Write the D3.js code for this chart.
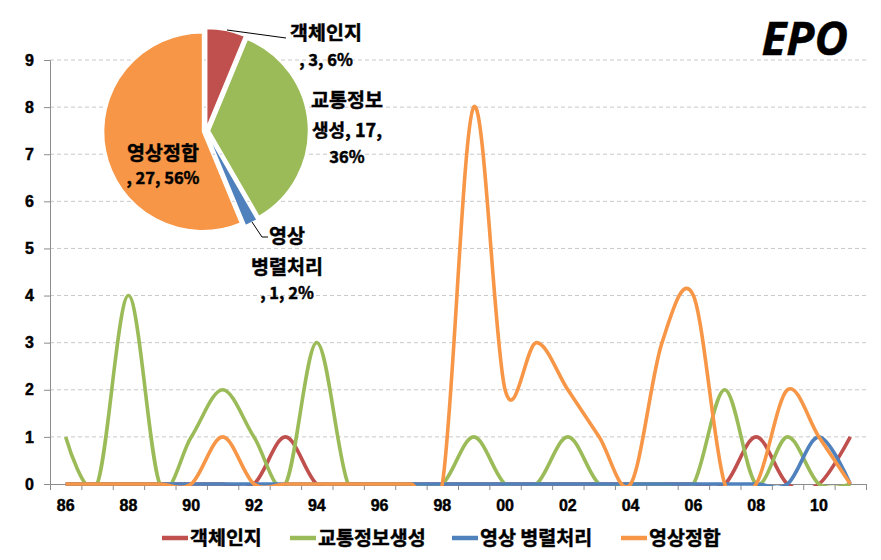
<!DOCTYPE html>
<html><head><meta charset="utf-8">
<script src="https://cdn.jsdelivr.net/npm/d3@7"></script>
<style>
html,body{margin:0;padding:0;background:#fff;}
text{font-family:"Noto Sans CJK KR","Noto Sans",sans-serif;font-weight:bold;}
.heavy{stroke:#000;stroke-width:0.45px;}
</style></head>
<body>
<svg id="chart" width="881" height="560"></svg>
<script>
// ---- data ----
const years = ["86","87","88","89","90","91","92","93","94","95","96","97","98","99","00","01","02","03","04","05","06","07","08","09","10","11"];
const xTickLabels = ["86","88","90","92","94","96","98","00","02","04","06","08","10"];
const yTicks = [0,1,2,3,4,5,6,7,8,9];
const seriesNames = ["객체인지","교통정보생성","영상 병렬처리","영상정합"];
const objectRecognition = [0,0,0,0,0,0,0,1,0,0,0,0,0,0,0,0,0,0,0,0,0,0,1,0,0,1];
const trafficInfo       = [1,0,4,0,1,2,1,0,3,0,0,0,0,1,0,0,1,0,0,0,0,2,0,1,0,0];
const parallelImage     = [0,0,0,0,0,0,0,0,0,0,0,0,0,0,0,0,0,0,0,0,0,0,0,0,1,0];
const imageRegistration = [0,0,0,0,0,1,0,0,0,0,0,0,0,8,2,3,2,1,0,3,4,0,0,2,1,0];
const pieValues = [3,17,1,27];
const piePercents = ["6%","36%","2%","56%"];
const pieLabelLines = [["객체인지",", 3, 6%"],["교통정보","생성, 17,","36%"],["영상","병렬처리",", 1, 2%"],["영상정합",", 27, 56%"]];
const titleText = "EPO";

const colors = ["#C0504D","#9BBB59","#4F81BD","#F79646"];
const allSeries = [objectRecognition, trafficInfo, parallelImage, imageRegistration];

const svg = d3.select("#chart");
const L = 50, R = 866, T = 60, B = 484;

const x = d3.scaleBand().domain(years).range([L, R]).padding(0);
const xc = d => x(d) + x.bandwidth()/2;
const y = d3.scaleLinear().domain([0,9]).range([B, T]);

// gridlines
svg.append("g").selectAll("line").data(yTicks.filter(d=>d>0)).join("line")
  .attr("x1", L).attr("x2", R).attr("y1", d=>y(d)).attr("y2", d=>y(d))
  .attr("stroke", "#c8c8c8").attr("stroke-width", 1).attr("stroke-dasharray", "4,3");

// y axis
const yAxis = svg.append("g").attr("transform", `translate(${L},0)`)
  .call(d3.axisLeft(y).tickValues(yTicks).tickSize(6).tickPadding(10).tickFormat(d3.format("d")));
yAxis.select(".domain").attr("stroke", "#8c8c8c");
yAxis.selectAll(".tick line").attr("stroke", "#8c8c8c");
yAxis.selectAll("text").style("font-size", "16px").attr("fill", "#000").attr("class","heavy")
  .style("font-family", "'Liberation Sans',Arial,sans-serif");

// x axis: boundary ticks
const xb = d3.scaleLinear().domain([0, years.length]).range([L, R]);
const xTickG = svg.append("g").attr("transform", `translate(0,${B})`)
  .call(d3.axisBottom(xb).tickValues(d3.range(0, years.length+1)).tickSize(6).tickFormat(""));
xTickG.select(".domain").attr("stroke", "#8c8c8c");
xTickG.selectAll(".tick line").attr("stroke", "#8c8c8c");
// x labels
const xLab = svg.append("g").attr("transform", `translate(0,${B})`)
  .call(d3.axisBottom(x).tickValues(xTickLabels).tickSize(0).tickPadding(16));
xLab.select(".domain").remove();
xLab.selectAll("text").style("font-size", "16px").attr("fill", "#000").attr("class","heavy")
  .style("font-family", "'Liberation Sans',Arial,sans-serif");

// lines
svg.append("clipPath").attr("id", "plotClip").append("rect")
  .attr("x", L).attr("y", 0).attr("width", R - L + 5).attr("height", B + 2);
const line = d3.line().x((d,i)=>xc(years[i])).y(d=>y(d)).curve(d3.curveCardinal.tension(0));
const lg = svg.append("g").attr("clip-path", "url(#plotClip)");
allSeries.forEach((s, k) => {
  lg.append("path").datum(s).attr("d", line).attr("fill", "none")
    .attr("stroke", colors[k]).attr("stroke-width", 3.6).attr("stroke-linejoin", "round");
});

// legend
const legX = [162, 290, 452, 621];
const leg = svg.append("g");
seriesNames.forEach((n, k) => {
  leg.append("line").attr("x1", legX[k]).attr("x2", legX[k] + 26).attr("y1", 538).attr("y2", 538)
    .attr("stroke", colors[k]).attr("stroke-width", 4.5);
  leg.append("text").attr("x", legX[k] + 28).attr("y", 538).attr("dy", "0.36em").attr("class","heavy")
    .style("font-size", "19.5px").text(n);
});

// pie
const pcx = 206, pcy = 131, pr = 99, explode = 3.5;
const pie = d3.pie().sort(null).value(d=>d)(pieValues);
const arc = d3.arc().innerRadius(0).outerRadius(pr);
const pg = svg.append("g").attr("transform", `translate(${pcx},${pcy})`);
pg.selectAll("path").data(pie).join("path")
  .attr("transform", d => { const a = (d.startAngle + d.endAngle)/2; return `translate(${Math.sin(a)*explode},${-Math.cos(a)*explode})`; })
  .attr("d", arc).attr("fill", (d,i)=>colors[i]).attr("stroke", "#fff").attr("stroke-width", 1.5);

// leader lines
svg.append("path").attr("d", "M227,30 L286,38").attr("fill","none").attr("stroke","#000").attr("stroke-width",1);
svg.append("path").attr("d", "M252,222 L262,237 L268,237").attr("fill","none").attr("stroke","#000").attr("stroke-width",1);

// pie labels
const labelPos = [
  {x:326, y:[33,60], anchor:"middle"},
  {x:347, y:[100,131,157], anchor:"middle"},
  {x:287, y:[236,267,293], anchor:"middle"},
  {x:163, y:[153,178], anchor:"middle"}
];
const fontFor = t => /^[가-힣 ]+$/.test(t) ? "19.5px" : (/[가-힣]/.test(t) ? "18px" : "16.5px");
pieLabelLines.forEach((lines, k) => {
  lines.forEach((t, j) => {
    let xx = labelPos[k].x, anc = labelPos[k].anchor;
    if (k === 2 && j === 0) { xx = 269; anc = "start"; }
    svg.append("text").attr("x", xx).attr("y", labelPos[k].y[j]).attr("dy", "0.36em").attr("class","heavy")
      .attr("text-anchor", anc).style("font-size", fontFor(t)).text(t);
  });
});

// title
svg.append("text").attr("x", 848).attr("y", 55).attr("text-anchor", "end").attr("class","heavy")
  .style("font-family", "'Open Sans',sans-serif").style("font-weight", "bold").style("font-style", "italic")
  .style("font-size", "46px").text(titleText);
</script>
</body></html>
